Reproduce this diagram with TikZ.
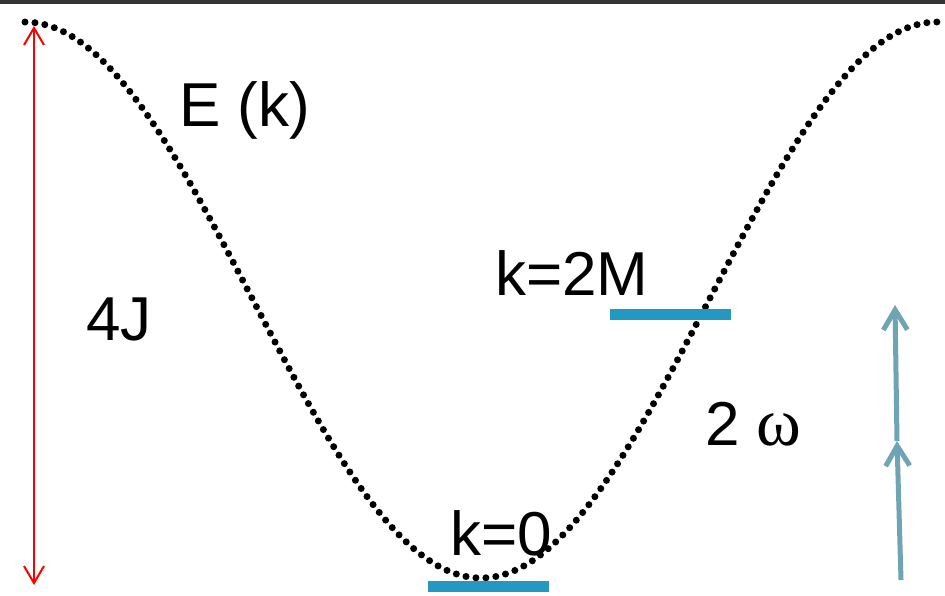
\documentclass[tikz,border=0pt]{standalone}
\usepackage{fontspec}
\setmainfont{Liberation Sans}
\newfontfamily\greekfont{Liberation Serif}
\usetikzlibrary{positioning,arrows.meta}
\definecolor{barblue}{HTML}{2399C2}
\definecolor{arrblue}{HTML}{6FA4B4}

\begin{document}
\begin{tikzpicture}[
  x=1pt, y=-1pt,
  lbl/.style={inner sep=0pt, anchor=base west, font=\fontsize{62}{70}\selectfont},
  bar/.style={fill=barblue, inner sep=0pt, minimum width=121pt, minimum height=11pt},
  dots/.style={line width=7pt, line cap=round, dash pattern=on 0pt off 10pt},
  redarr/.style={{Straight Barb[length=17pt,width=20pt]}-{Straight Barb[length=17pt,width=20pt]}, red, line width=2pt},
  bluearr/.style={-{Straight Barb[length=20pt,width=24pt]}, arrblue, line width=5pt}
]
\useasboundingbox (0,0) rectangle (945,596);
\fill[black!80] (0,0) rectangle (945,4);
% dispersion curve
\draw[dots] plot[domain=25:937, samples=200] (\x, {300+278*cos(0.3947368*(\x-481))});
% levels
\node[bar] (k0bar) at (488,586) {};
\node[bar] (kMbar) at (670,314) {};
\node[lbl] (Ek) at (179,127) {E (k)};
\node[lbl] (fourJ) at (86,340) {4J};
\node[lbl] (kM) at (495,295) {k=2M};
\node[lbl] (k0) at (450,555) {k=0};
\node[lbl] (omega) at (705,445) {2 {\greekfont\fontsize{68}{70}\selectfont ω}};
% bandwidth
\coordinate (top) at (34,26);
\coordinate (bot) at (34,585);
\draw[redarr] (bot) -- (top);
% two photons
\coordinate (ph0) at (901,580);
\coordinate (ph1) at (897,441);
\coordinate (ph2) at (895,305);
\draw[bluearr] (ph0) -- (ph1);
\draw[bluearr] (ph1) -- (ph2);
\end{tikzpicture}
\end{document}
